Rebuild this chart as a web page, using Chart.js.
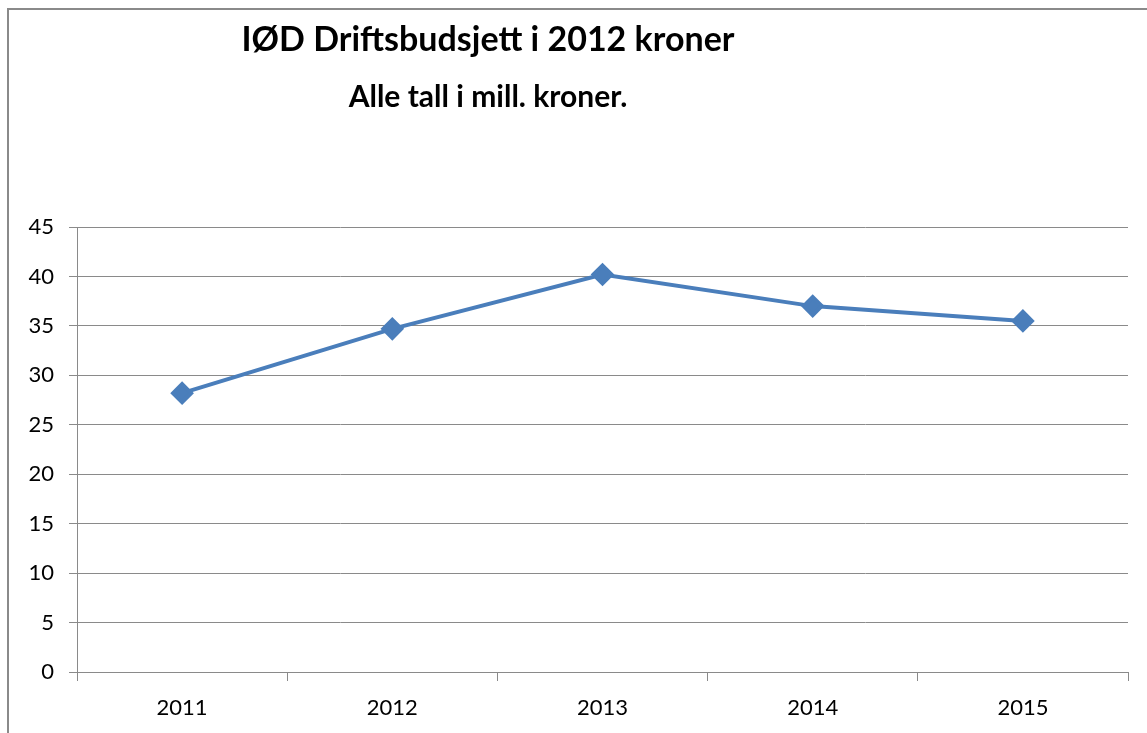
<!DOCTYPE html>
<html>
<head>
<meta charset="utf-8">
<script src="https://cdn.jsdelivr.net/npm/chart.js@4"></script>
<style>
  body { margin: 0; background: #fff; }
  #wrap { position: absolute; left: 0; top: 0; width: 1147px; height: 733px; }
</style>
</head>
<body>
<div id="wrap"><canvas id="myChart" width="1147" height="733"></canvas></div>
<script>
const years = ["2011", "2012", "2013", "2014", "2015"];
const budget = [28.2, 34.7, 40.2, 37.0, 35.5];
const titleText = "IØD Driftsbudsjett i 2012 kroner";
const subtitleText = "Alle tall i mill. kroner.";

const fontFamily = "Lato, 'Open Sans', sans-serif";

// frame and the two title lines, placed like the original
const frameAndTitles = {
  id: "frameAndTitles",
  beforeDraw(chart) {
    const c = chart.ctx;
    c.save();
    c.strokeStyle = "#8a8a8a";
    c.lineWidth = 2;
    c.strokeRect(8, 9, 1200, 800);
    c.restore();
  },
  afterDraw(chart) {
    const c = chart.ctx;
    c.save();
    c.fillStyle = "#000";
    c.textAlign = "center";
    c.textBaseline = "middle";
    c.font = "bold 34px " + fontFamily;
    c.fillText(titleText, 488, 40);
    c.font = "bold 30px " + fontFamily;
    c.fillText(subtitleText, 488, 97);
    c.restore();
  },
};

const ctx = document.getElementById("myChart");

new Chart(ctx, {
  type: "line",
  data: {
    labels: years,
    datasets: [
      {
        label: "Driftsbudsjett",
        data: budget,
        borderColor: "#4a7ebb",
        backgroundColor: "#4a7ebb",
        borderWidth: 4,
        pointStyle: "rectRot",
        pointRadius: 9,
        pointHoverRadius: 9,
        tension: 0,
      },
    ],
  },
  options: {
    responsive: false,
    animation: false,
    layout: {
      padding: { top: 227, left: 0, right: 19, bottom: 0 },
    },
    plugins: {
      legend: { display: false },
      title: { display: false },
      tooltip: { enabled: false },
    },
    scales: {
      x: {
        offset: true,
        afterFit(scale) {
          scale.height = 61;
        },
        grid: {
          offset: true,
          drawOnChartArea: false,
          drawTicks: true,
          tickLength: 9,
          color: "#8a8a8a",
        },
        border: { color: "#8a8a8a", width: 1 },
        ticks: {
          color: "#000",
          font: { family: fontFamily, size: 22 },
          padding: 14,
        },
      },
      y: {
        min: 0,
        max: 45,
        afterFit(scale) {
          scale.width = 77;
        },
        grid: {
          color: "#8a8a8a",
          tickLength: 8,
        },
        border: { color: "#8a8a8a", width: 1 },
        ticks: {
          stepSize: 5,
          color: "#000",
          font: { family: fontFamily, size: 22 },
          padding: 15,
        },
      },
    },
  },
  plugins: [frameAndTitles],
});
</script>
</body>
</html>
